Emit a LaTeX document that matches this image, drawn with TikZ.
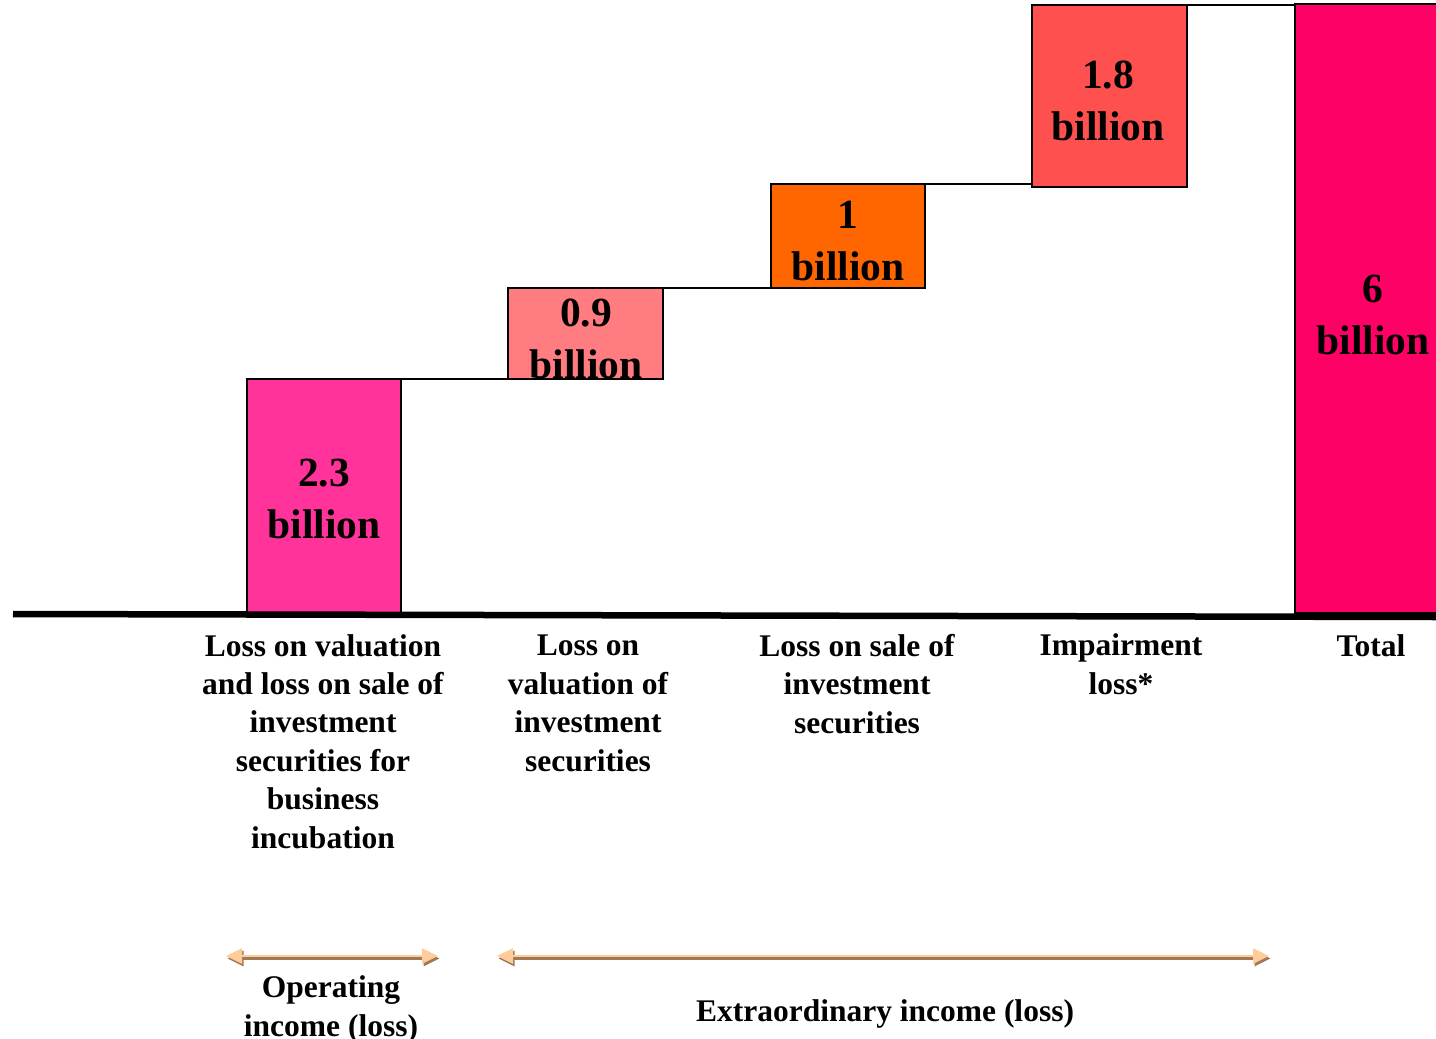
\documentclass[tikz,border=0pt]{standalone}
\usepackage{fontspec}
\setmainfont{Liberation Serif}
\usetikzlibrary{arrows.meta}
\definecolor{barA}{HTML}{FF3399}
\definecolor{barB}{HTML}{FF7C80}
\definecolor{barC}{HTML}{FF6600}
\definecolor{barD}{HTML}{FF5050}
\definecolor{barE}{HTML}{FF0066}
\definecolor{spanlight}{HTML}{FFCC99}
\definecolor{spanshade}{HTML}{A07A58}
\begin{document}
\begin{tikzpicture}[x=1pt,y=-1pt,
  bar/.style={draw=black, line width=1.8pt, inner sep=0pt, outer sep=0pt, anchor=north west},
  link/.style={draw=black, line width=1.6pt},
  value/.style={font=\fontsize{41.5}{52}\selectfont\bfseries, align=center, anchor=base, inner sep=0pt},
  caption/.style={font=\fontsize{31.5}{38.4}\selectfont\bfseries, align=center, anchor=base, inner sep=0pt},
  spanback/.style={draw=spanshade, fill=spanshade, line width=3pt, {Triangle[length=16pt,width=15pt]}-{Triangle[length=16pt,width=15pt]}, transform canvas={xshift=1.5pt, yshift=-2.5pt}},
  spanfront/.style={draw=spanlight, fill=spanlight, line width=2.5pt, {Triangle[length=16pt,width=15pt]}-{Triangle[length=16pt,width=15pt]}}]
\path[use as bounding box, clip] (0,0) rectangle (1436,1039);

% waterfall bars
\node[bar, fill=barA, minimum width=154pt, minimum height=234pt] (b1) at (247,379) {};
\node[bar, fill=barB, minimum width=155pt, minimum height=91pt]  (b2) at (508,288) {};
\node[bar, fill=barC, minimum width=154pt, minimum height=104pt] (b3) at (771,184) {};
\node[bar, fill=barD, minimum width=155pt, minimum height=182pt] (b4) at (1032,5) {};
\node[bar, fill=barE, minimum width=155pt, minimum height=609pt] (b5) at (1295,4) {};

% step connectors
\draw[link] (b1.north east) -- (b1.north east -| b2.west);
\draw[link] (b2.north east) -- (b2.north east -| b3.west);
\draw[link] (b3.north east) -- (b3.north east -| b4.west);
\draw[link] (b4.north east) -- (b4.north east -| b5.west);

% base line
\coordinate (axL) at (13,614);
\coordinate (axR) at (1436,617);
\draw[line width=6.5pt] (axL) -- (axR);

% values (anchored at the baseline of the last line)
\node[value] (v1) at (324,538) {2.3\\billion};
\node[value] (v2) at (586,378) {0.9\\billion};
\node[value] (v3) at (848,280) {1\\billion};
\node[value] (v4) at (1108,140) {1.8\\billion};
\node[value] (v5) at (1373,354) {6\\billion};

% category captions
\node[caption] (c1) at (323,848) {Loss on valuation\\and loss on sale of\\investment\\securities for\\business\\incubation};
\node[caption] (c2) at (588,771) {Loss on\\valuation of\\investment\\securities};
\node[caption] (c3) at (857,733) {Loss on sale of\\investment\\securities};
\node[caption] (c4) at (1121,694) {Impairment\\loss*};
\node[caption] (c5) at (1371,656) {Total};

% income spans
\coordinate (opL) at (226,956);
\coordinate (opR) at (438,956);
\coordinate (exL) at (497,956);
\coordinate (exR) at (1269,956);
\draw[spanback] (opL) -- (opR);
\draw[spanfront] (opL) -- (opR);
\draw[spanback] (exL) -- (exR);
\draw[spanfront] (exL) -- (exR);
\node[caption] (s1) at (331,1036) {Operating\\income (loss)};
\node[caption] (s2) at (885,1021) {Extraordinary income (loss)};
\end{tikzpicture}
\end{document}
